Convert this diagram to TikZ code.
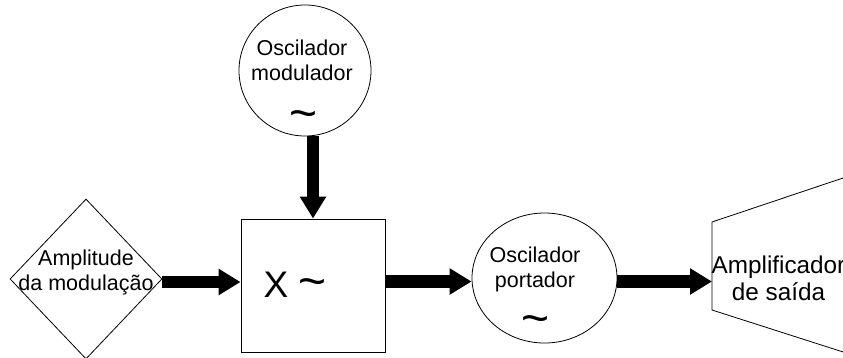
\documentclass[tikz,border=0pt]{standalone}
\usepackage{fontspec}
\setmainfont{Liberation Sans}
\usetikzlibrary{arrows.meta,shapes.geometric}
\begin{document}
\begin{tikzpicture}[x=1pt,y=-1pt,
  shapeline/.style={draw=black,line width=0.8pt,inner sep=0pt},
  lbl/.style={align=center,inner sep=0pt,font=\fontsize{21.5}{25}\selectfont},
  tld/.style={inner sep=0pt,font=\fontsize{48}{48}\selectfont},
  bigarrow/.style={line width=12.5pt,-{Triangle[length=22pt,width=25pt]}}]
\useasboundingbox (0,0) rectangle (843,357);
\fill[white] (0,0) rectangle (843,357);
% shapes
\node[shapeline,diamond,minimum width=152pt,minimum height=160pt] (dia) at (86,279) {};
\node[shapeline,rectangle,minimum width=144pt,minimum height=133pt] (box) at (313,285.5) {};
\node[shapeline,ellipse,minimum width=132pt,minimum height=131pt] (osc1) at (305,70.5) {};
\node[shapeline,ellipse,minimum width=145pt,minimum height=130pt] (osc2) at (544.5,278) {};
\coordinate (a1) at (712,222);
\coordinate (a2) at (860,172.3);
\coordinate (a3) at (860,357.4);
\coordinate (a4) at (712,310);
\coordinate (ampin) at (712,281.5);
\draw[line width=0.8pt] (a1) -- (a2) -- (a3) -- (a4) -- cycle;
% labels
\node[lbl] (tdia) at (86,272) {Amplitude\\da modulação};
\node[lbl] (tosc1) at (302,60) {Oscilador\\modulador};
\node[tld] (w1) at (304,120) {\char`\~};
\node[inner sep=0pt,font=\fontsize{37}{37}\selectfont] (tbox) at (295,285) {X \fontsize{48}{48}\selectfont\char`\~};
\node[lbl] (tosc2) at (535,269) {Oscilador\\portador};
\node[tld] (w2) at (536,325) {\char`\~};
\node[align=center,inner sep=0pt,font=\fontsize{24.3}{27}\selectfont] (tamp) at (778.5,278) {Amplificador\\de saída};
% connectors
\draw[bigarrow] (osc1.south -| box.north) -- (box.north);
\draw[bigarrow] ([yshift=-3pt]dia.east) -- ([yshift=3.5pt]box.west);
\draw[bigarrow] ([yshift=4pt]box.east) -- ([yshift=-3.5pt]osc2.west);
\draw[bigarrow] ([yshift=-3.5pt]osc2.east) -- (ampin);
\end{tikzpicture}
\end{document}
